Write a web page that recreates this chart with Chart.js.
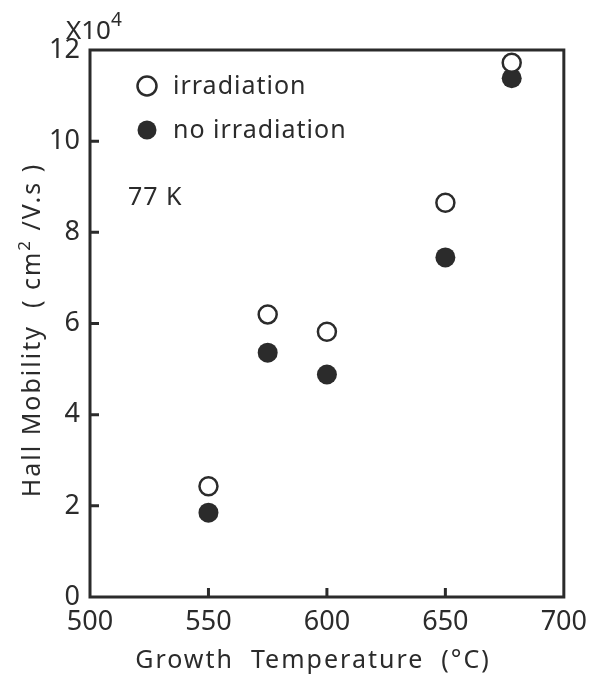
<!DOCTYPE html>
<html>
<head>
<meta charset="utf-8">
<script src="https://cdn.jsdelivr.net/npm/chart.js@4/dist/chart.umd.min.js"></script>
<style>
  html, body { margin: 0; padding: 0; background: #fff; }
  #wrap { width: 596px; height: 675px; position: relative; }
</style>
</head>
<body>
<div id="wrap"><canvas id="mobilityChart"></canvas></div>
<script>
// growth temperature (°C)
const temps = [550, 575, 600, 650, 678];
// Hall mobility at 77 K, units of 10^4 cm2/V.s
const irradiated = [2.43, 6.2, 5.82, 8.65, 11.72];
const nonIrradiated = [1.85, 5.36, 4.88, 7.45, 11.38];
const seriesNames = ['irradiation', 'no irradiation'];
const xTickMarks = [550, 600, 650];
const yTickMarks = [2, 4, 6, 8, 10];

const INK = '#2b2b2b';
const FONT = '"Noto Sans", sans-serif';

function toPoints(xs, ys) {
    return xs.map((x, i) => ({ x: x, y: ys[i] }));
}

// draws a run of [text, size, rise] pieces starting at x along the baseline
function drawPieces(ctx, pieces, x, y) {
    pieces.forEach(p => {
        ctx.font = p[1] + 'px ' + FONT;
        ctx.fillText(p[0], x, y - p[2]);
        x += ctx.measureText(p[0]).width;
    });
    return x;
}

function piecesWidth(ctx, pieces) {
    let w = 0;
    pieces.forEach(p => {
        ctx.font = p[1] + 'px ' + FONT;
        w += ctx.measureText(p[0]).width;
    });
    return w;
}

// frame, inward ticks, titles, legend and notes
const paperPlugin = {
    id: 'paper',
    afterDraw(chart) {
        const ctx = chart.ctx;
        const a = chart.chartArea;
        const xs = chart.scales.x, ys = chart.scales.y;
        ctx.save();
        ctx.strokeStyle = INK;
        ctx.lineWidth = 3;
        ctx.strokeRect(a.left, a.top, a.right - a.left, a.bottom - a.top);

        ctx.beginPath();
        xTickMarks.forEach(v => {
            const px = xs.getPixelForValue(v);
            ctx.moveTo(px, a.bottom);
            ctx.lineTo(px, a.bottom - 9);
        });
        yTickMarks.forEach(v => {
            const py = ys.getPixelForValue(v);
            ctx.moveTo(a.left, py);
            ctx.lineTo(a.left + 9, py);
        });
        ctx.stroke();

        ctx.fillStyle = INK;
        ctx.letterSpacing = '2px';
        ctx.textBaseline = 'alphabetic';
        ctx.textAlign = 'left';

        // x title
        const xt = [['Growth  Temperature  (°C)', 25, 0]];
        drawPieces(ctx, xt, 313 - piecesWidth(ctx, xt) / 2, 668);

        // y title
        const yt = [['Hall Mobility  ( cm', 25, 0], ['2', 17, 10], [' /V.s )', 25, 0]];
        ctx.save();
        ctx.translate(40, 330);
        ctx.rotate(-Math.PI / 2);
        drawPieces(ctx, yt, -piecesWidth(ctx, yt) / 2, 0);
        ctx.restore();

        // x10^4
        ctx.letterSpacing = '0px';
        drawPieces(ctx, [['X10', 26, 0], ['4', 19, 13]], 66, 39);

        // legend
        ctx.letterSpacing = '1px';
        ctx.font = '25px ' + FONT;
        const ds = chart.data.datasets;
        const rows = [86, 130];
        rows.forEach((y, i) => {
            ctx.beginPath();
            ctx.arc(147, y, 9.5, 0, Math.PI * 2);
            if (i === 0) {
                ctx.lineWidth = 2.5;
                ctx.stroke();
            } else {
                ctx.fill();
            }
            ctx.textBaseline = 'middle';
            ctx.fillText(ds[i].label, 173, y + 1);
        });

        ctx.fillText('77 K', 128, 198);
        ctx.restore();
    }
};

new Chart(document.getElementById('mobilityChart'), {
    type: 'scatter',
    data: {
        datasets: [{
            label: seriesNames[0],
            data: toPoints(temps, irradiated),
            pointRadius: 9,
            pointBorderWidth: 2.5,
            pointBorderColor: INK,
            pointBackgroundColor: '#fff'
        }, {
            label: seriesNames[1],
            data: toPoints(temps, nonIrradiated),
            pointRadius: 10,
            pointBorderWidth: 0,
            pointBorderColor: INK,
            pointBackgroundColor: INK
        }]
    },
    options: {
        responsive: true,
        maintainAspectRatio: false,
        animation: false,
        layout: { padding: { top: 50, right: 23, left: 0, bottom: 0 } },
        plugins: {
            legend: { display: false },
            tooltip: { enabled: false }
        },
        scales: {
            x: {
                type: 'linear',
                min: 500,
                max: 700,
                grid: { display: false, drawTicks: false },
                border: { display: false },
                ticks: {
                    stepSize: 50,
                    padding: 9,
                    color: INK,
                    font: { family: FONT, size: 27 },
                    maxRotation: 0
                },
                afterFit(scale) { scale.height = 78; }
            },
            y: {
                min: 0,
                max: 12,
                grid: { display: false, drawTicks: false },
                border: { display: false },
                ticks: {
                    stepSize: 2,
                    padding: 10,
                    color: INK,
                    font: { family: FONT, size: 27 }
                },
                afterFit(scale) { scale.width = 90; }
            }
        }
    },
    plugins: [paperPlugin]
});
</script>
</body>
</html>
